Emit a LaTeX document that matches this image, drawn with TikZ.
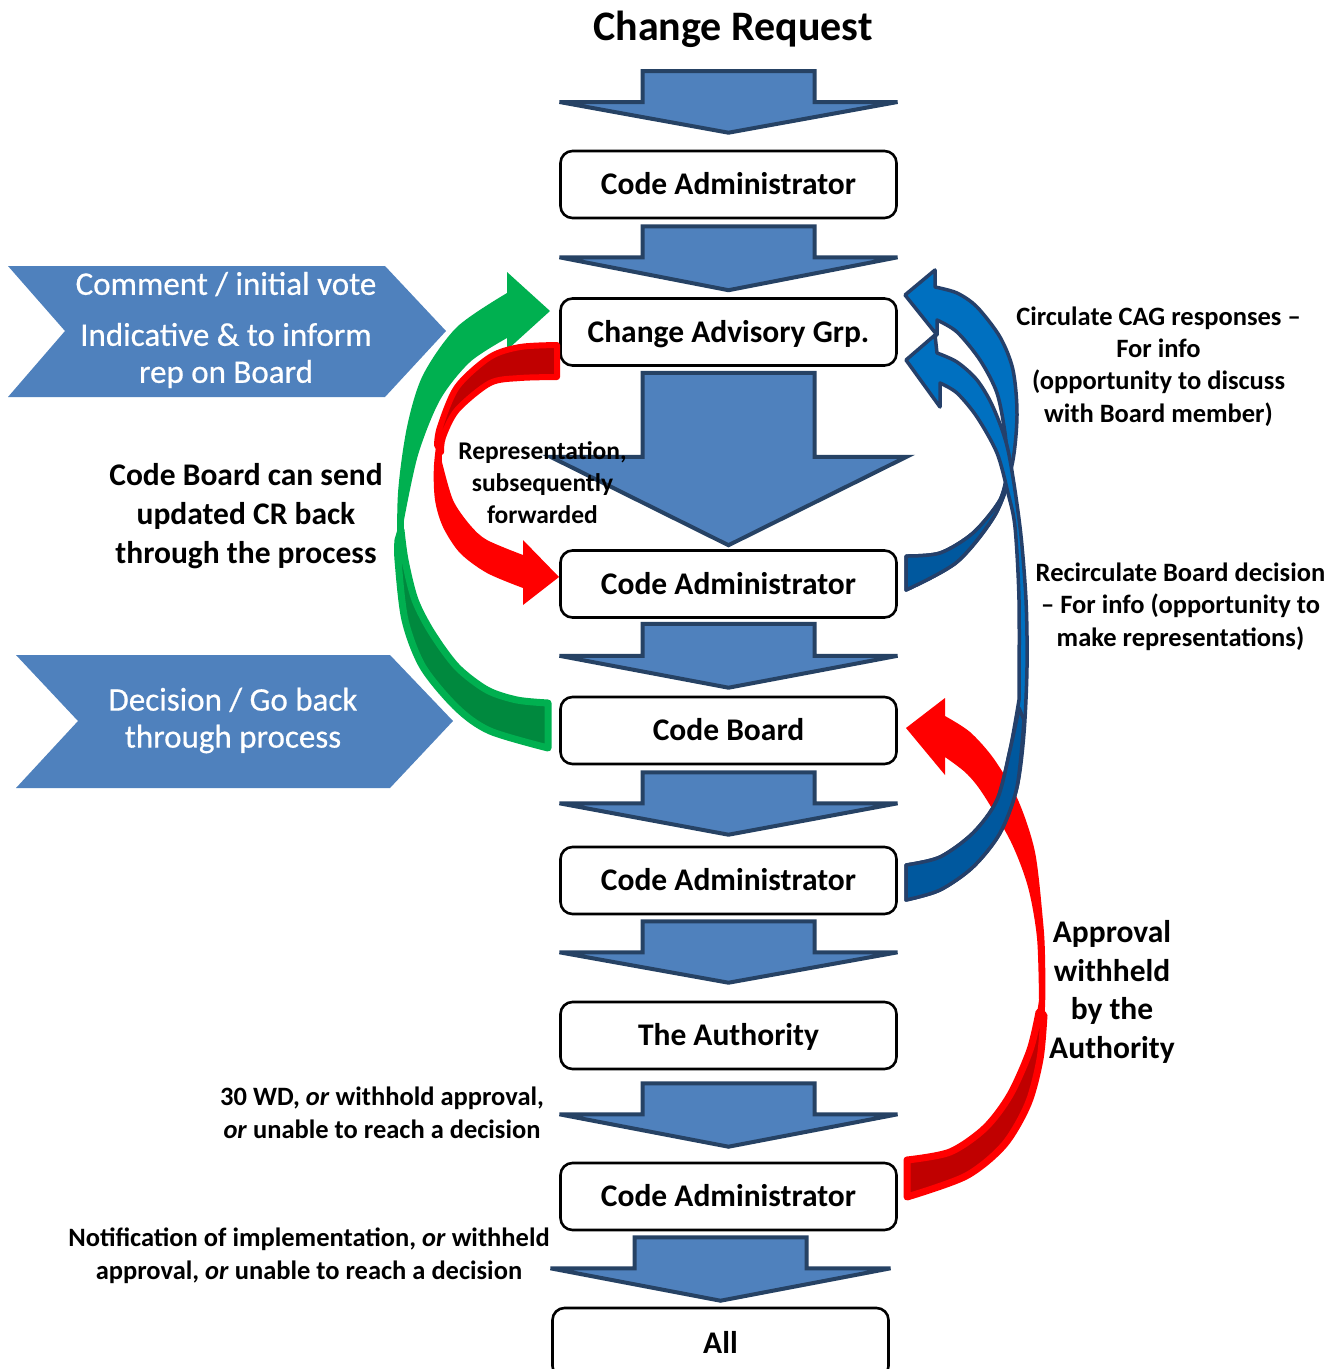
\documentclass[tikz,border=0pt]{standalone}
\usepackage{fontspec}
\setmainfont{Carlito}
\newfontfamily\chevfont[FakeBold=0.5]{Carlito}
\usetikzlibrary{calc}
\definecolor{blkfill}{HTML}{4F81BD}
\definecolor{blkline}{HTML}{264264}
\definecolor{gfront}{HTML}{00B050}
\definecolor{gback}{HTML}{00893E}
\definecolor{rfront}{HTML}{FF0000}
\definecolor{rback}{HTML}{C00000}
\definecolor{bfront}{HTML}{0070C0}
\definecolor{bback}{HTML}{00589E}
\definecolor{bline}{HTML}{25406A}
\newcommand\flowarrow[6]{% from point, to point, top gap, shaft length, half wing, tip gap
  \filldraw[blockarrow] let \p1=(#1), \p2=(#2) in
   (\x2-86pt,\y1-#3pt) -- (\x2+86pt,\y1-#3pt) -- (\x2+86pt,\y1-#3pt-#4pt)
   -- (\x2+#5pt,\y1-#3pt-#4pt) -- (\x2,\y2+#6pt) -- (\x2-#5pt,\y1-#3pt-#4pt)
   -- (\x2-86pt,\y1-#3pt-#4pt) -- cycle;}
\tikzset{
  blockarrow/.style={fill=blkfill, draw=blkline, line width=4pt, line join=miter},
  box/.style={draw=black, line width=2.6pt, rounded corners=12pt, fill=white,
    minimum width=336pt, minimum height=67pt, inner sep=0pt,
    font=\fontsize{31.5}{38}\selectfont\bfseries, text height=24pt, text depth=4pt},
  chev/.style={fill=blkfill},
  chevtext/.style={text=white, align=center, inner sep=0pt},
  lbl/.style={align=center, inner sep=0pt, text=black},
  bluearrow/.style={fill=bfront, draw=bline, line width=3.5pt, line join=round},
  blueback/.style={fill=bback, draw=bline, line width=3.5pt, line join=round},
}
\begin{document}
\begin{tikzpicture}[x=1pt, y=-1pt]
\useasboundingbox (0,0) rectangle (1342,1369);
\clip (0,0) rectangle (1342,1369);
\fill[white] (0,0) rectangle (1342,1369);

% chevrons
\fill[chev] (8,266) -- (385,266) -- (446,331) -- (385,397) -- (8,397) -- (65,331) -- cycle;
\fill[chev] (16,655) -- (390,655) -- (453,721) -- (390,788) -- (16,788) -- (78,721) -- cycle;
\node[chevtext, font=\chevfont\fontsize{33}{37}\selectfont] (chevA) at (226,330)
  {Comment / initial vote\\[14pt]Indicative \& to inform\\rep on Board};
\node[chevtext, font=\chevfont\fontsize{33}{37}\selectfont] (chevB) at (233,720.5)
  {Decision / Go back\\through process};

% title and boxes
\node[lbl, font=\fontsize{42}{50}\selectfont\bfseries] (title) at (733,29) {Change Request};
\coordinate (crtop) at (729,71);
\node[box] (ca1) at (728.5,184.5) {Code Administrator};
\node[box] (cag) at (728.5,332) {Change Advisory Grp.};
\node[box] (ca2) at (728.5,584) {Code Administrator};
\node[box] (board) at (728.5,730.5) {Code Board};
\node[box] (ca3) at (728.5,880.5) {Code Administrator};
\node[box] (auth) at (728.5,1035.5) {The Authority};
\node[box] (ca4) at (728.5,1196.5) {Code Administrator};
\node[box, minimum height=70pt] (all) at (720.5,1343) {All};

% block arrows
\flowarrow{crtop}{ca1.north}{0}{31}{169}{17}
\flowarrow{ca1.south}{cag.north}{7}{31}{169}{7}
\flowarrow{cag.south}{ca2.north}{6}{84}{178}{4}
\flowarrow{ca2.south}{board.north}{5}{32}{169}{8}
\flowarrow{board.south}{ca3.north}{7}{31}{169}{11}
\flowarrow{ca3.south}{auth.north}{6}{31}{169}{18}
\flowarrow{auth.south}{ca4.north}{13}{31}{169}{15}
\flowarrow{ca4.south}{all.north}{6}{31}{170}{6}

% green curved arrow (Code Board -> CAG)
\fill[gfront] plot[smooth] coordinates {(548,748) (490,731) (457,708) (423,667) (405,620) (398,560) (398,493) (407,427) (423,375) (457,327) (507,293)}
  -- (507,272) -- (550,311) -- (507,350) -- (507,338)
  -- plot[smooth] coordinates {(507,338) (470,362) (440,400) (418,455) (404,520)}
  -- plot[smooth] coordinates {(404,520) (405,560) (415,600) (432,633) (457,667) (487,690) (517,700) (548,703)}
  -- cycle;
\filldraw[fill=gback, draw=gfront, line width=7pt, line join=round]
  plot[smooth] coordinates {(548,703) (517,700) (487,690) (457,667) (432,633) (415,600) (405,560) (401,530)}
  -- plot[smooth] coordinates {(398,540) (398,560) (405,620) (423,667) (457,708) (490,731) (548,748)} -- cycle;

% red curved arrow (CAG -> CA2)
\fill[rfront] plot[smooth] coordinates {(557,345) (520,347) (490,357) (470,372) (457,387) (440,427) (434,465) (435,500) (443,527) (460,553) (487,573) (523,588)}
  -- (523,605) -- (559,577) -- (523,540) -- (523,555)
  -- plot[smooth] coordinates {(523,555) (487,540) (470,525) (453,500) (442,462)}
  -- plot[smooth] coordinates {(442,462) (443,437) (457,410) (490,383) (520,378) (557,377)}
  -- cycle;
\filldraw[fill=rback, draw=rfront, line width=6pt, line join=round]
  plot[smooth] coordinates {(557,377) (520,378) (490,383) (457,410) (443,437) (441,452)}
  -- plot[smooth] coordinates {(437,445) (440,427) (457,387) (490,357) (520,347) (557,345)} -- cycle;

% red curved arrow (CA4 -> Code Board)
\fill[rfront] plot[smooth] coordinates {(907,1197) (966,1176) (1004,1145) (1028,1104) (1040,1059) (1045,1007) (1045,955) (1043,921) (1035,852) (1018,800) (994,759) (970,732) (945,716)}
  -- (945,698) -- (906,728) -- (945,775) -- (945,757)
  -- plot[smooth] coordinates {(945,757) (966,773) (983,794) (1011,842) (1028,887) (1037,938) (1039,1000)}
  -- plot[smooth] coordinates {(1039,1000) (1030,1050) (1010,1095) (985,1128) (950,1152) (907,1160)}
  -- cycle;
\filldraw[fill=rback, draw=rfront, line width=7pt, line join=round]
  plot[smooth] coordinates {(907,1160) (950,1152) (985,1128) (1010,1095) (1030,1050) (1039,1012)}
  -- plot[smooth] coordinates {(1044,1015) (1040,1059) (1028,1104) (1004,1145) (966,1176) (907,1197)} -- cycle;

% blue curved arrow 1 (CA2 -> CAG)
\filldraw[bluearrow] plot[smooth] coordinates {(906,590) (957,562) (995,515) (1012,465) (1017,415) (1013,370) (1000,337) (977,307) (957,293) (935,287)}
  -- (935,270) -- (905,295) -- (937,335) -- (937,320)
  -- plot[smooth] coordinates {(937,320) (957,332) (980,360) (997,393) (1005,433) (1008,468)}
  -- plot[smooth] coordinates {(1008,468) (1000,500) (973,533) (940,553) (906,556)}
  -- cycle;
\filldraw[blueback]
  plot[smooth] coordinates {(906,556) (940,553) (973,533) (1000,500) (1008,472)}
  -- plot[smooth] coordinates {(1012,472) (995,515) (957,562) (906,590)} -- cycle;

% blue curved arrow 2 (CA3 -> CAG)
\filldraw[bluearrow] plot[smooth] coordinates {(906,900) (940,890) (973,867) (1000,833) (1017,787) (1024,733) (1027,667) (1026,600) (1020,527) (1008,450) (993,407) (977,380) (957,362) (937,353)}
  -- (935,335) -- (906,360) -- (940,407) -- (940,383)
  -- plot[smooth] coordinates {(940,383) (957,393) (977,417) (997,453) (1008,493) (1015,527) (1019,600) (1019,700)}
  -- plot[smooth] coordinates {(1019,700) (1010,750) (997,800) (973,833) (940,857) (906,865)}
  -- cycle;
\filldraw[blueback]
  plot[smooth] coordinates {(906,865) (940,857) (973,833) (997,800) (1010,750) (1019,708)}
  -- plot[smooth] coordinates {(1024,720) (1017,787) (1000,833) (973,867) (940,890) (906,900)} -- cycle;

% labels
\node[lbl, font=\fontsize{31.5}{39}\selectfont\bfseries] (cbtxt) at (246,516)
  {Code Board can send\\updated CR back\\through the process};
\node[lbl, font=\fontsize{25.5}{32}\selectfont\bfseries] (reptxt) at (542.5,483)
  {Representation,\\subsequently\\forwarded};
\node[lbl, font=\fontsize{26.5}{32.3}\selectfont\bfseries] (circtxt) at (1158.5,366.5)
  {Circulate CAG responses --\\For info\\(opportunity to discuss\\with Board member)};
\node[lbl, font=\fontsize{26.5}{32.5}\selectfont\bfseries] (recirctxt) at (1180.5,606.5)
  {Recirculate Board decision\\-- For info (opportunity to\\make representations)};
\node[lbl, font=\fontsize{31.5}{38.7}\selectfont\bfseries] (apptxt) at (1112,992)
  {Approval\\withheld\\by the\\Authority};
\node[lbl, font=\fontsize{26.5}{33}\selectfont\bfseries] (wdtxt) at (382,1112.5)
  {30 WD, \textit{or} withhold approval,\\\textit{or} unable to reach a decision};
\node[lbl, font=\fontsize{26.5}{33}\selectfont\bfseries] (notiftxt) at (309,1255.5)
  {Notification of implementation, \textit{or} withheld\\approval, \textit{or} unable to reach a decision};
\end{tikzpicture}
\end{document}
